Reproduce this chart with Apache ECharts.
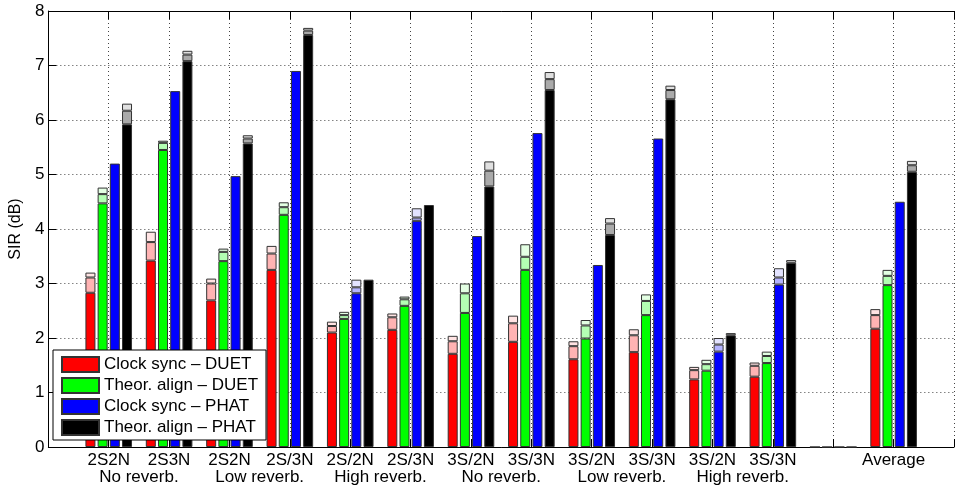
<!DOCTYPE html>
<html>
<head>
<meta charset="utf-8">
<script src="https://cdn.jsdelivr.net/npm/echarts@6/dist/echarts.min.js"></script>
<style>
  html, body { margin: 0; padding: 0; background: #fff; }
  #chart { width: 957px; height: 494px; }
</style>
</head>
<body>
<div id="chart"></div>
<script>
// Case labels on the x axis (first and last slots are empty margins, slot 13 is a spacer)
const categories = ['', '2S2N', '2S3N', '2S2N', '2S/3N', '2S/2N', '2S/3N', '3S/2N', '3S/3N', '3S/2N', '3S/3N', '3S/2N', '3S/3N', '', 'Average', ''];
// Reverberation condition shown under each pair of cases
const conditionLabels = ['No reverb.', 'Low reverb.', 'High reverb.', 'No reverb.', 'Low reverb.', 'High reverb.'];
const seriesNames = ['Clock sync \u2013 DUET', 'Theor. align \u2013 DUET', 'Clock sync \u2013 PHAT', 'Theor. align \u2013 PHAT'];

// SIR (dB) for each case: solid base level, top of middle band, top of upper band
const clockDuetBase = [2.83, 3.42, 2.69, 3.25, 2.10, 2.15, 1.71, 1.93, 1.61, 1.74, 1.24, 1.29, 0, 2.17];
const clockDuetMid  = [3.11, 3.76, 3.00, 3.55, 2.22, 2.38, 1.94, 2.27, 1.85, 2.05, 1.41, 1.49, 0, 2.42];
const clockDuetTop  = [3.20, 3.95, 3.09, 3.69, 2.30, 2.45, 2.04, 2.41, 1.94, 2.16, 1.47, 1.55, 0, 2.53];

const alignDuetBase = [4.47, 5.45, 3.41, 4.26, 2.35, 2.59, 2.46, 3.25, 1.99, 2.42, 1.40, 1.54, 0, 2.97];
const alignDuetMid  = [4.64, 5.58, 3.58, 4.40, 2.42, 2.71, 2.82, 3.49, 2.23, 2.68, 1.52, 1.67, 0, 3.14];
const alignDuetTop  = [4.76, 5.62, 3.64, 4.49, 2.48, 2.76, 3.00, 3.72, 2.33, 2.80, 1.60, 1.75, 0, 3.25];

const clockPhatBase = [5.20, 6.53, 4.97, 6.90, 2.82, 4.15, 3.87, 5.76, 3.34, 5.66, 1.75, 2.98, 0, 4.50];
const clockPhatMid  = [5.20, 6.53, 4.97, 6.90, 2.93, 4.21, 3.87, 5.76, 3.34, 5.66, 1.88, 3.11, 0, 4.50];
const clockPhatTop  = [5.20, 6.53, 4.97, 6.90, 3.07, 4.38, 3.87, 5.76, 3.34, 5.66, 2.00, 3.28, 0, 4.50];

const alignPhatBase = [5.92, 7.08, 5.57, 7.56, 3.07, 4.44, 4.78, 6.55, 3.89, 6.38, 2.05, 3.38, 0, 5.05];
const alignPhatMid  = [6.17, 7.20, 5.66, 7.64, 3.07, 4.44, 5.07, 6.75, 4.10, 6.55, 2.05, 3.38, 0, 5.17];
const alignPhatTop  = [6.30, 7.27, 5.72, 7.69, 3.07, 4.44, 5.24, 6.88, 4.20, 6.63, 2.09, 3.43, 0, 5.25];

const yTicks = [0, 1, 2, 3, 4, 5, 6, 7, 8];

// Solid, middle and light shades for each method
const palette = [
  ['#ff0000', '#ffb3b3', '#ffe3e3'],
  ['#00ff00', '#b3ffb3', '#e3ffe3'],
  ['#0000ff', '#b3b3ff', '#e3e3ff'],
  ['#000000', '#aaaaaa', '#e0e0e0']
];

const levels = [
  [clockDuetBase, clockDuetMid, clockDuetTop],
  [alignDuetBase, alignDuetMid, alignDuetTop],
  [clockPhatBase, clockPhatMid, clockPhatTop],
  [alignPhatBase, alignPhatMid, alignPhatTop]
];

const FONT = 'Liberation Sans, Arial, Helvetica, sans-serif';

// Pad a 14-case array to the 16 axis slots
function pad(arr) { return [null].concat(arr, [null]); }

const series = [];
levels.forEach((lv, m) => {
  const [base, mid, top] = lv;
  const parts = [
    base,
    mid.map((v, i) => { const d = +(v - base[i]).toFixed(3); return d > 0 ? d : null; }),
    top.map((v, i) => { const d = +(v - mid[i]).toFixed(3); return d > 0 ? d : null; })
  ];
  parts.forEach((data, k) => {
    series.push({
      type: 'bar',
      name: k === 0 ? seriesNames[m] : seriesNames[m] + (k === 1 ? ' (mid)' : ' (upper)'),
      stack: 'method' + m,
      xAxisIndex: 0,
      yAxisIndex: 0,
      barWidth: 10,
      barGap: '22%',
      data: pad(data),
      itemStyle: { color: palette[m][k], borderColor: '#333', borderWidth: 1 },
      emphasis: { disabled: true },
      silent: true
    });
  });
});

const chart = echarts.init(document.getElementById('chart'), null, { renderer: 'canvas' });

const tickStyle = { show: true, inside: true, length: 8, lineStyle: { color: '#000', width: 1 } };
const dotted = { show: true, lineStyle: { color: '#444', width: 1, type: [1, 3] } };

chart.setOption({
  animation: false,
  backgroundColor: '#fff',
  textStyle: { fontFamily: FONT },
  grid: { left: 48, top: 11, right: -8, bottom: 47, containLabel: false },
  legend: {
    data: seriesNames,
    orient: 'vertical',
    left: 53,
    top: 350,
    itemWidth: 37,
    itemHeight: 15,
    itemGap: 4,
    padding: [6, 8, 4, 8],
    backgroundColor: '#fff',
    borderColor: '#000',
    borderWidth: 1,
    icon: 'rect',
    selectedMode: false,
    textStyle: { fontFamily: FONT, fontSize: 17, color: '#000' }
  },
  xAxis: [
    {
      type: 'category',
      data: categories,
      boundaryGap: false,
      position: 'bottom',
      axisLine: { show: true, onZero: false, lineStyle: { color: '#000', width: 1 } },
      axisTick: Object.assign({ interval: 0, alignWithLabel: true }, tickStyle),
      axisLabel: { interval: 0, margin: 5, fontSize: 17, color: '#000', fontFamily: FONT },
      splitLine: Object.assign({ interval: 0 }, dotted)
    },
    {
      type: 'value',
      min: 0,
      max: 15,
      interval: 0.5,
      position: 'bottom',
      axisLine: { show: false, onZero: false },
      axisTick: { show: false },
      splitLine: { show: false },
      axisLabel: {
        margin: 22,
        fontSize: 17,
        color: '#000',
        fontFamily: FONT,
        showMinLabel: true,
        showMaxLabel: true,
        formatter: function (v) {
          const k = (v - 1.5) / 2;
          if (Number.isInteger(k) && k >= 0 && k < conditionLabels.length) return conditionLabels[k];
          return '';
        }
      }
    },
    {
      type: 'category',
      data: categories,
      boundaryGap: false,
      position: 'top',
      axisLine: { show: true, onZero: false, lineStyle: { color: '#000', width: 1 } },
      axisTick: Object.assign({ interval: 0 }, tickStyle),
      axisLabel: { show: false },
      splitLine: { show: false }
    }
  ],
  yAxis: [
    {
      type: 'value',
      min: yTicks[0],
      max: yTicks[yTicks.length - 1],
      interval: 1,
      name: 'SIR (dB)',
      nameLocation: 'middle',
      nameGap: 20,
      nameTextStyle: { fontSize: 16, color: '#000', fontFamily: FONT },
      axisLine: { show: true, lineStyle: { color: '#000', width: 1 } },
      axisTick: tickStyle,
      axisLabel: { margin: 4, fontSize: 17, color: '#000', fontFamily: FONT },
      splitLine: dotted
    }
  ],
  series: series
});
</script>
</body>
</html>
